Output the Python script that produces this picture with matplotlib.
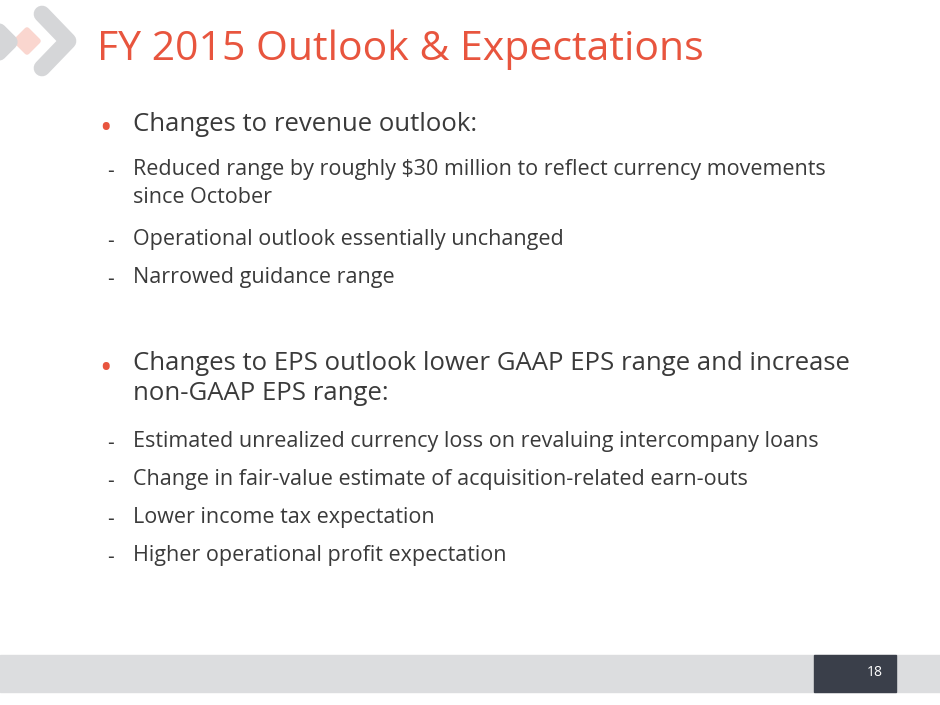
import matplotlib.pyplot as plt
from matplotlib.patches import Polygon, Rectangle

W, H = 940, 705
title = "FY 2015 Outlook & Expectations"
heads = [
    "Changes to revenue outlook:",
    "Changes to EPS outlook lower GAAP EPS range and increase\nnon-GAAP EPS range:",
]
subs = [
    [
        "Reduced range by roughly $30 million to reflect currency movements\nsince October",
        "Operational outlook essentially unchanged",
        "Narrowed guidance range",
    ],
    [
        "Estimated unrealized currency loss on revaluing intercompany loans",
        "Change in fair-value estimate of acquisition-related earn-outs",
        "Lower income tax expectation",
        "Higher operational profit expectation",
    ],
]
page = "18"

RED = "#E8553E"
TXT = "#3A3A3A"
GREY = "#D5D6D8"
plt.rcParams['font.family'] = ['Open Sans', 'DejaVu Sans']

fig = plt.figure(figsize=(W / 100, H / 100), dpi=100)
ax = fig.add_axes([0, 0, 1, 1])
ax.set_xlim(0, W)
ax.set_ylim(H, 0)
ax.axis('off')

# logo
ax.plot([-18, 10, -18], [14, 42, 70], color=GREY, lw=11, solid_capstyle='round', solid_joinstyle='round')
ax.plot([42, 68, 42], [14, 41, 68], color=GREY, lw=12, solid_capstyle='round', solid_joinstyle='round')
ax.add_patch(Polygon([(27, 30), (38, 41), (27, 52), (16, 41)], closed=True,
                     facecolor='#FAD6CF', edgecolor='#FAD6CF', lw=4, joinstyle='round'))

ax.text(97, 50, title, color=RED, fontsize=29.5, va='center', ha='left')

y = 130
for head, items in zip(heads, subs):
    ax.text(105, y, "•", color=RED, fontsize=24, va='center', ha='center')
    ax.text(133, y - 18, head, color=TXT, fontsize=18.5, va='top', ha='left', linespacing=1.28)
    y += 33 * head.count("\n") + 42
    for it in items:
        ax.text(107, y, "-", color=TXT, fontsize=15, va='center', ha='left')
        ax.text(133, y - 13, it, color=TXT, fontsize=15.5, va='top', ha='left', linespacing=1.45)
        y += 32 * it.count("\n") + 38
    y += 51

ax.add_patch(Rectangle((0, 655), W, 37, color='#DCDDDF'))
ax.add_patch(Rectangle((814, 655), 82, 37, color='#3A3F4A'))
ax.text(875, 673, page, color='white', fontsize=10, va='center', ha='center')

fig.savefig('out.png', dpi=100)
